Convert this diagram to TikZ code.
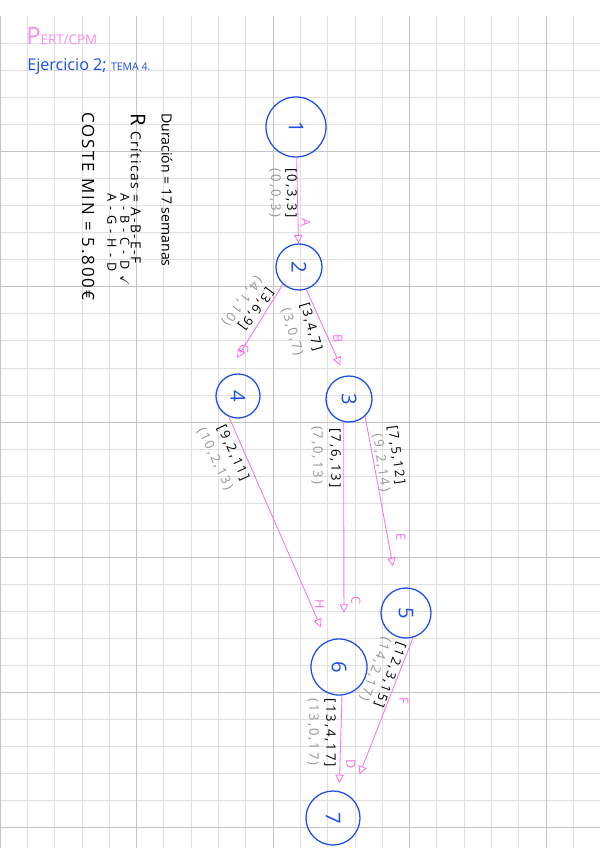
\documentclass[tikz,border=0pt]{standalone}
\usepackage{fontspec}
\usepackage{amssymb}
\usepackage{graphicx}
\setmainfont{Open Sans}
\newfontfamily\hand[LetterSpace=12]{Open Sans}
\newfontfamily\handw[LetterSpace=40]{Open Sans}
\newfontfamily\handl[LetterSpace=15]{Open Sans}
\usetikzlibrary{arrows.meta}
\definecolor{nblue}{RGB}{28,78,232}
\definecolor{epink}{RGB}{252,112,236}
\definecolor{tpink}{RGB}{250,140,236}
\definecolor{lgrey}{RGB}{150,150,150}
\definecolor{gridl}{RGB}{224,224,224}
\definecolor{gridd}{RGB}{196,196,196}
\tikzset{
  ev/.style={circle,draw=nblue,line width=0.9pt,text=nblue,inner sep=0pt,font=\Large},
  act/.style={draw=epink,line width=0.6pt,-{Triangle[open,length=6pt,width=6pt]}},
  lt/.style={font=\small,text=epink,rotate=-90},
  tb/.style={font=\handl\fontsize{9.3}{10}\selectfont,text=black,inner sep=0pt},
  tg/.style={font=\handl\fontsize{9.3}{10}\selectfont,text=lgrey,inner sep=0pt},
  note/.style={rotate=-90,anchor=west,inner sep=0pt,text=black},
}
\newcommand{\rt}[1]{\rotatebox{-90}{#1}}

\begin{document}
\begin{tikzpicture}[x=0.025cm,y=-0.025cm]
\useasboundingbox[fill=white] (0,0) rectangle (600,848);
% squared paper
\foreach \i in {1,...,21} \draw[gridl,line width=0.5pt] (\i*27.3,16.2) -- (\i*27.3,848);
\foreach \j in {1,...,30} \draw[gridl,line width=0.5pt] (0,16.2+\j*27.05) -- (600,16.2+\j*27.05);
\foreach \i in {0,5,10,15,20} \draw[gridd,line width=0.6pt] (\i*27.3+0.3,16.2) -- (\i*27.3+0.3,848);
\foreach \j in {5,10,...,30} \draw[gridd,line width=0.6pt] (0,16.2+\j*27.05) -- (600,16.2+\j*27.05);

% heading
\node[anchor=west,inner sep=0pt,text=tpink] (ttl) at (26,36)
  {\fontsize{17}{17}\selectfont P\fontsize{9.5}{10}\selectfont ERT/CPM};
\node[anchor=west,inner sep=0pt,text=nblue] (sub) at (27,67)
  {\fontsize{11.5}{12}\selectfont Ejercicio 2; \fontsize{7.5}{8}\selectfont TEMA 4.};

% results
\node[note,font=\fontsize{10}{11}\selectfont] (dur) at (167,113) {Duración = 17 semanas};
\node[note,font=\hand\fontsize{9.8}{10}\selectfont] (crit) at (138,113) {{\Large R} Críticas = A-B-E-F};
\node[note,font=\handw\fontsize{9}{9}\selectfont] (crit2) at (125,193) {A-B-C-D\enspace$\checkmark$};
\node[note,font=\handw\fontsize{9}{9}\selectfont] (crit3) at (112,193) {A-G-H-D};
\node[note,font=\hand\fontsize{12}{13}\selectfont] (cost) at (88,112) {COSTE MIN = 5.800€};

% events
\node[ev,minimum size=1.5cm] (n1) at (296,127) {\rt{1}};
\node[ev,minimum size=1.15cm] (n2) at (299,267) {\rt{2}};
\node[ev,minimum size=1.1cm] (n4) at (238,396) {\rt{4}};
\node[ev,minimum size=1.15cm] (n3) at (349,399) {\rt{3}};
\node[ev,minimum size=1.25cm] (n5) at (406,613) {\rt{5}};
\node[ev,minimum size=1.4cm] (n6) at (339,667) {\rt{6}};
\node[ev,minimum size=1.35cm] (n7) at (333,818) {\rt{7}};

% activities
\draw[act] (n1) -- (n2);
\draw[act,shorten >=0.575cm] (n2.-133) -- (n4.125);
\draw[act,shorten >=0.28cm] (n2.-72) -- (n3.100);
\draw[act,shorten >=0.375cm] (n4.-114) -- (n6.115);
\draw[act,shorten >=0.65cm] (n3.-103) -- (n6.80);
\draw[act,shorten >=0.575cm] (n3.-47) -- (n5.110);
\draw[act,shorten >=0.2cm] (n6.-84) -- (n7.77);
\draw[act,shorten >=0.6cm] (n5.-74) -- (n7.50);

% activity letters
\node[lt] (la) at (306,223) {A};
\node[lt] (lg) at (244,349) {G};
\node[lt] (lb) at (338,339) {B};
\node[lt] (lh) at (320,604) {H};
\node[lt] (lc) at (356,600) {C};
\node[lt] (le) at (401,537) {E};
\node[lt] (lf) at (404,701) {F};
\node[lt] (ld) at (351,764) {D};

% times
\node[tb,rotate=-90] (ta) at (291,193) {[0,3,3]};
\node[tg,rotate=-90] (ga) at (275,193) {(0,0,3)};
\node[tb,rotate=-127] (tgg) at (256,309) {[3,6,9]};
\node[tg,rotate=-127] (ggg) at (242,301) {(4,1,10)};
\node[tb,rotate=-74] (tbb) at (311,327) {[3,4,7]};
\node[tg,rotate=-74] (gbb) at (292,332) {(3,0,7)};
\node[tb,rotate=-65] (th) at (233,453) {[9,2,11]};
\node[tg,rotate=-65] (gh) at (215,459) {(10,2,13)};
\node[tb,rotate=-90] (tc) at (335,458) {[7,6,13]};
\node[tg,rotate=-90] (gc) at (317,455) {(7,0,13)};
\node[tb,rotate=-82] (te) at (396,455) {[7,5,12]};
\node[tg,rotate=-82] (ge) at (381,463) {(9,2,14)};
\node[tb,rotate=-110] (tf) at (390,675) {[12,3,15]};
\node[tg,rotate=-110] (gf) at (375,669) {(14,2,17)};
\node[tb,rotate=-90] (td) at (330,733) {[13,4,17]};
\node[tg,rotate=-90] (gd) at (313,732) {(13,0,17)};
\end{tikzpicture}
\end{document}
